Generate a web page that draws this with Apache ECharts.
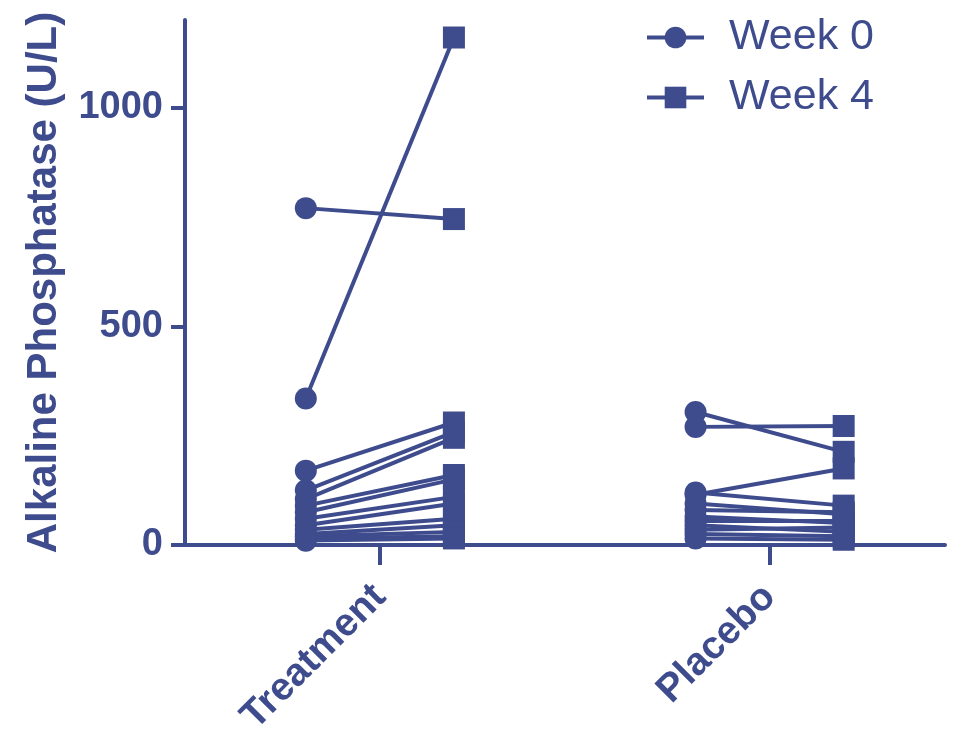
<!DOCTYPE html>
<html>
<head>
<meta charset="utf-8">
<title>Alkaline Phosphatase</title>
<script src="https://cdn.jsdelivr.net/npm/echarts@6/dist/echarts.min.js"></script>
<style>
  html, body { margin: 0; padding: 0; background: #ffffff; }
  #chart { width: 957px; height: 734px; }
</style>
</head>
<body>
<div id="chart"></div>
<script>
// Paired measurements per subject: week 0 value and week 4 value
const groups = ['Treatment', 'Placebo'];
const treatmentWeek0 = [770, 335, 170, 125, 105, 90, 75, 60, 45, 35, 25, 20, 15, 10];
const treatmentWeek4 = [745, 1160, 280, 258, 245, 160, 150, 110, 95, 60, 45, 30, 20, 15];
const placeboWeek0 = [304, 270, 115, 120, 95, 80, 65, 55, 45, 35, 25, 15];
const placeboWeek4 = [213, 272, 175, 90, 70, 75, 50, 55, 30, 40, 20, 12];
const yTicks = [0, 500, 1000];
const seriesNames = ['Week 0', 'Week 4'];

const COLOR = '#3e4c8d';
const FONT = 'Liberation Sans, Arial, sans-serif';
const OFFSET = 0.19; // horizontal shift of each week inside a group

function pairSeries(groupIndex, w0, w4) {
  const centre = groupIndex + 1;
  return w0.map((v, i) => ({
    type: 'line',
    data: [[centre - OFFSET, v], [centre + OFFSET, w4[i]]],
    symbol: (value, params) => (params.dataIndex === 0 ? 'circle' : 'rect'),
    symbolSize: 22,
    showSymbol: true,
    lineStyle: { color: COLOR, width: 4 },
    itemStyle: { color: COLOR },
    emphasis: { disabled: true },
    silent: true,
    animation: false
  }));
}

const series = [
  // legend-only entries
  { name: seriesNames[0], type: 'line', data: [], symbol: 'circle',
    lineStyle: { color: COLOR, width: 4 }, itemStyle: { color: COLOR } },
  { name: seriesNames[1], type: 'line', data: [], symbol: 'rect',
    lineStyle: { color: COLOR, width: 4 }, itemStyle: { color: COLOR } },
  ...pairSeries(0, treatmentWeek0, treatmentWeek4),
  ...pairSeries(1, placeboWeek0, placeboWeek4)
];

const chart = echarts.init(document.getElementById('chart'), null, { renderer: 'canvas' });
chart.setOption({
  animation: false,
  backgroundColor: '#ffffff',
  grid: { left: 185, right: 12, top: 20, bottom: 189, containLabel: false, outerBoundsMode: 'none' },
  legend: {
    data: seriesNames,
    orient: 'vertical',
    left: 645,
    top: 16,
    padding: 0,
    itemWidth: 57,
    itemHeight: 27,
    itemGap: 17,
    selectedMode: false,
    lineStyle: { width: 4, color: COLOR },
    textStyle: {
      color: COLOR,
      fontFamily: FONT,
      fontSize: 43,
      lineHeight: 43,
      padding: [0, 0, 0, 20]
    }
  },
  xAxis: {
    type: 'value',
    min: 0.5,
    max: 2.45,
    splitLine: { show: false },
    axisLine: { show: true, lineStyle: { color: COLOR, width: 4 } },
    axisTick: { show: true, customValues: [1, 2], length: 20, lineStyle: { color: COLOR, width: 4 } },
    axisLabel: {
      customValues: [1, 2],
      formatter: v => groups[Math.round(v) - 1] || '',
      rotate: 45,
      margin: 46,
      color: COLOR,
      fontFamily: FONT,
      fontSize: 39,
      fontWeight: 'bold'
    }
  },
  yAxis: {
    type: 'value',
    min: 0,
    max: 1200,
    name: 'Alkaline Phosphatase (U/L)',
    nameLocation: 'middle',
    nameGap: 120,
    nameTextStyle: {
      color: COLOR,
      fontFamily: FONT,
      fontSize: 42,
      fontWeight: 'bold'
    },
    splitLine: { show: false },
    axisLine: { show: true, lineStyle: { color: COLOR, width: 4 } },
    axisTick: { show: true, customValues: yTicks, length: 14, lineStyle: { color: COLOR, width: 4 } },
    axisLabel: {
      customValues: yTicks,
      formatter: v => String(v),
      margin: 22,
      color: COLOR,
      fontFamily: FONT,
      fontSize: 38,
      fontWeight: 'bold'
    }
  },
  series: series
});
</script>
</body>
</html>
